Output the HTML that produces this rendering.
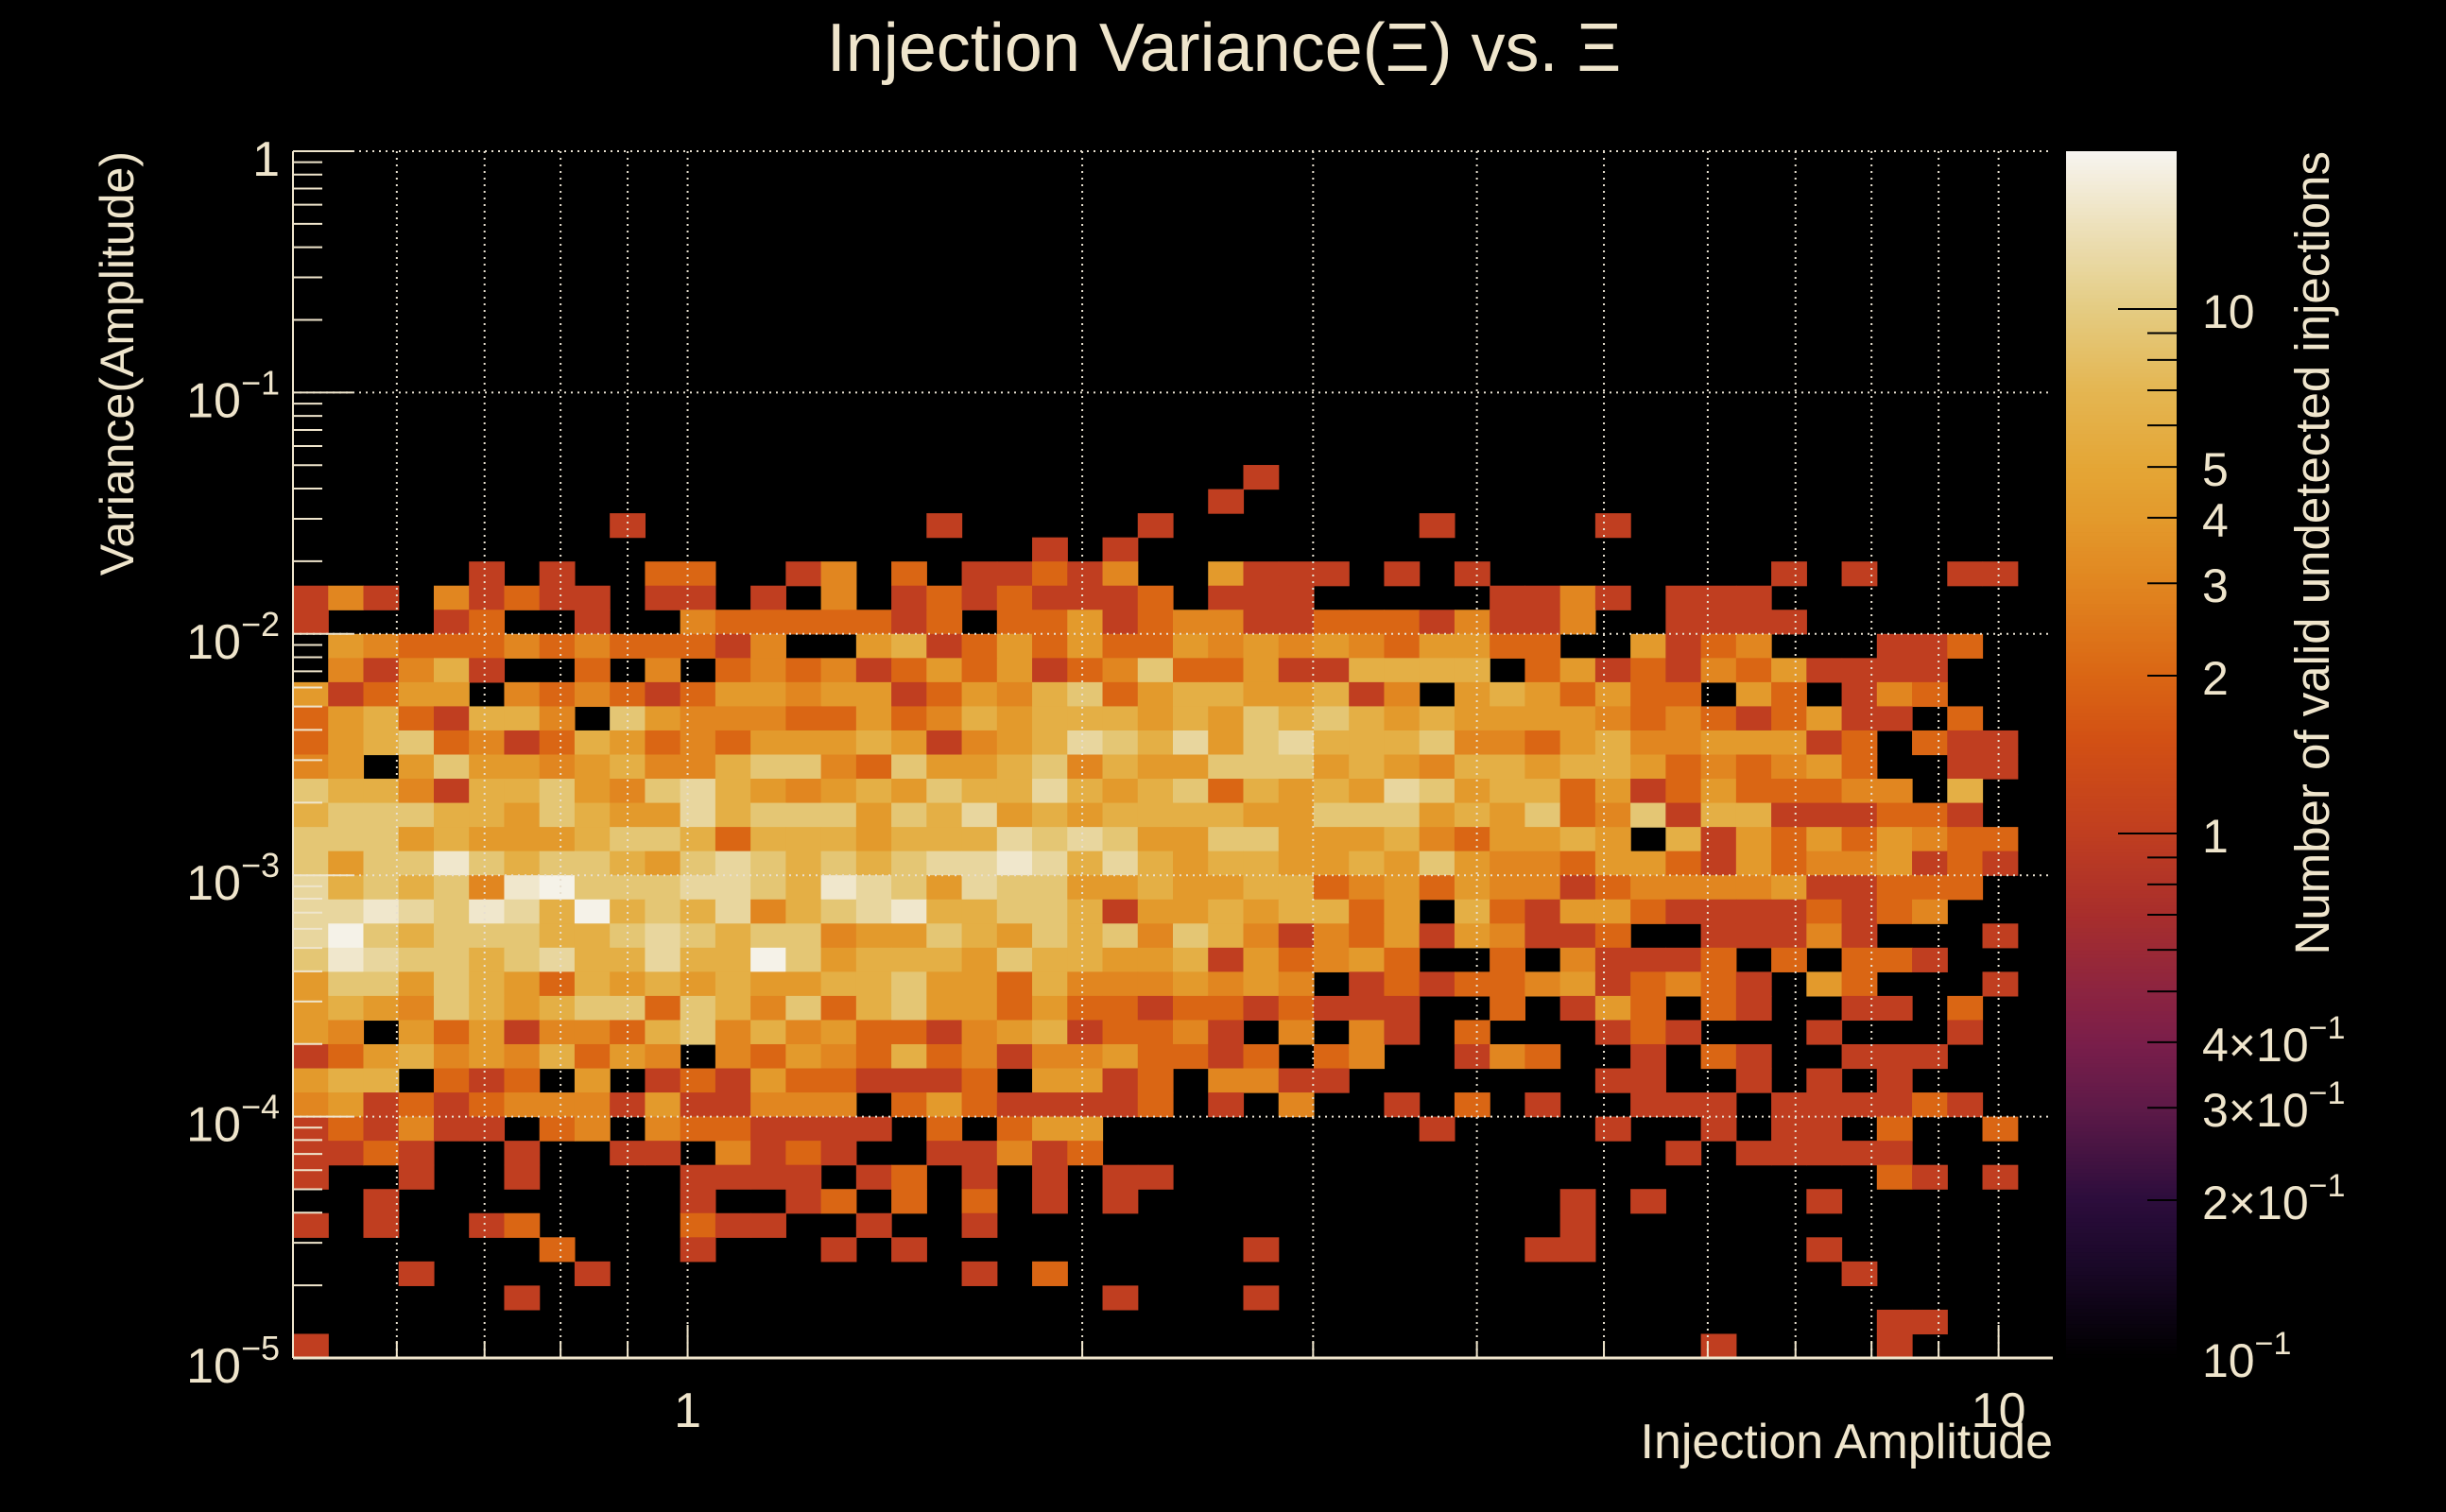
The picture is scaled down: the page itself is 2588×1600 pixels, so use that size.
<!DOCTYPE html>
<html><head><meta charset="utf-8"><title>Injection Variance vs Xi</title>
<style>
html,body{margin:0;padding:0;background:#000;}
svg{display:block;font-family:"Liberation Sans",sans-serif;}
text{fill:#efe5cc;}
</style></head>
<body>
<svg id="chart" width="2588" height="1600" viewBox="0 0 2588 1600" xmlns="http://www.w3.org/2000/svg">
<rect x="0" y="0" width="2588" height="1600" fill="#000"/>
<text x="1295" y="75" font-size="72" text-anchor="middle">Injection Variance(Ξ) vs. Ξ</text>
<g id="cells"></g>
<g id="grid"></g>
<g id="axes"></g>
<g id="cbar"></g>
<text x="2172" y="1543" font-size="52" text-anchor="end">Injection Amplitude</text>
<text transform="translate(141,160) rotate(-90)" font-size="50" text-anchor="end">Variance(Amplitude)</text>
<text transform="translate(2464,160) rotate(-90)" font-size="51" text-anchor="end">Number of valid undetected injections</text>
</svg>
<script>
// y bins counted from the top (bin 0 = [10^-0.1, 1]); rows below start at bin 13
const firstRow = 13;
const xTickValues = [0.6,0.7,0.8,0.9,1,2,3,4,5,6,7,8,9,10];
const xTickLabels = ["1","10"];
const xTickLabelValues = [1,10];
const yDecades = [0,-1,-2,-3,-4,-5];
const cbarTickValues = [0.2,0.3,0.4,0.5,0.6,0.7,0.8,0.9,1,2,3,4,5,6,7,8,9,10];
const cbarLabelValues = [0.1,0.2,0.3,0.4,1,2,3,4,5,10];
const cbarLabelMain = ["10","2×10","3×10","4×10","1","2","3","4","5","10"];
const cbarLabelSup = ["−1","−1","−1","−1","","","","","",""];
const counts = [
[0,0,0,0,0,0,0,0,0,0,0,0,0,0,0,0,0,0,0,0,0,0,0,0,0, 0,0,1,0,0,0,0,0,0,0,0,0,0,0,0,0,0,0,0,0,0,0,0,0,0],
[0,0,0,0,0,0,0,0,0,0,0,0,0,0,0,0,0,0,0,0,0,0,0,0,0, 0,1,0,0,0,0,0,0,0,0,0,0,0,0,0,0,0,0,0,0,0,0,0,0,0],
[0,0,0,0,0,0,0,0,0,1,0,0,0,0,0,0,0,0,1,0,0,0,0,0,1, 0,0,0,0,0,0,0,1,0,0,0,0,1,0,0,0,0,0,0,0,0,0,0,0,0],
[0,0,0,0,0,0,0,0,0,0,0,0,0,0,0,0,0,0,0,0,0,1,0,1,0, 0,0,0,0,0,0,0,0,0,0,0,0,0,0,0,0,0,0,0,0,0,0,0,0,0],
[0,0,0,0,0,1,0,1,0,0,2,2,0,0,1,3,0,2,0,1,1,2,1,3,0, 0,4,1,1,1,0,1,0,1,0,0,0,0,0,0,0,0,1,0,1,0,0,1,1,0],
[1,3,1,0,3,1,2,1,1,0,1,1,0,1,0,3,0,1,2,1,2,1,1,1,2, 0,1,1,1,0,0,0,0,0,1,1,3,1,0,1,1,1,0,0,0,0,0,0,0,0],
[1,0,0,0,1,2,0,0,1,0,0,3,2,2,2,2,2,1,2,0,2,2,4,1,2, 3,3,1,1,2,2,2,1,3,1,1,3,0,0,1,1,1,1,0,0,0,0,0,0,0],
[0,4,3,2,2,2,3,2,3,2,2,2,1,3,0,0,4,6,1,2,4,2,4,2,2, 4,3,4,3,4,3,2,4,4,2,2,0,0,4,1,2,3,0,0,0,1,1,2,0,0],
[0,3,1,3,6,1,0,0,2,0,3,0,2,3,2,3,1,2,4,2,4,1,2,3,9, 2,2,4,1,1,6,6,6,6,0,2,4,1,2,1,3,2,4,1,1,1,1,0,0,0],
[4,1,2,4,4,0,3,2,3,2,1,2,4,4,3,4,4,1,2,4,3,6,9,2,4, 6,6,4,4,6,1,3,0,4,6,4,2,4,2,2,0,4,2,0,1,3,2,0,0,0],
[2,4,6,2,1,6,6,3,0,9,4,3,3,3,2,2,4,2,3,6,4,6,6,6,4, 6,4,9,6,9,6,4,6,4,4,4,4,3,2,3,2,1,2,4,1,1,0,2,0,0],
[2,4,6,9,2,3,1,2,6,4,2,3,2,4,4,4,6,4,1,3,4,6,12,9,6, 12,4,9,12,6,6,6,9,3,3,2,4,6,3,3,4,4,4,1,2,0,2,1,1,0],
[3,4,0,4,9,4,4,3,4,6,3,3,6,9,9,3,2,9,4,4,6,9,3,6,4, 4,9,9,9,4,6,4,3,6,6,4,6,6,4,2,3,2,3,4,2,0,0,1,1,0],
[9,6,6,3,1,6,6,9,4,3,9,12,6,4,3,4,6,4,9,6,6,12,6,4,6, 9,2,6,4,6,4,12,9,4,6,6,2,4,1,2,4,2,2,2,3,3,0,6,0,0],
[6,9,9,9,6,6,4,9,6,4,4,12,6,9,9,9,4,9,6,12,4,6,4,6,6, 6,6,4,4,9,9,9,4,6,4,9,2,3,9,1,6,6,1,1,1,2,2,1,0,0],
[9,9,9,4,6,4,4,4,6,9,9,6,2,6,6,6,4,6,6,6,12,9,12,9,4, 4,9,9,4,4,4,6,3,2,4,4,6,4,0,6,1,4,2,4,2,4,3,2,2,0],
[9,4,9,9,16,9,6,9,9,6,4,9,12,9,6,9,6,9,12,12,16,12,6,12,6, 4,6,6,4,4,6,4,9,4,3,3,2,4,4,2,1,4,2,3,3,4,1,2,1,0],
[12,6,9,6,9,3,16,19,9,9,9,12,12,9,6,16,12,9,4,12,9,9,4,4,6, 4,4,6,6,2,3,4,2,4,3,3,1,2,3,3,3,3,4,1,1,2,2,2,0,0],
[12,12,16,12,9,16,12,6,19,6,9,6,12,3,6,9,12,16,6,6,9,9,6,1,4, 4,6,4,6,6,2,4,0,6,2,1,4,4,2,1,1,1,1,2,1,2,3,0,0,0],
[12,19,9,6,9,9,9,6,6,9,12,9,6,9,9,3,4,4,9,6,4,9,6,9,3, 9,6,3,1,3,2,4,1,4,3,1,1,2,0,0,1,1,1,3,1,0,0,0,1,0],
[9,16,12,9,9,6,9,12,6,6,12,6,6,19,9,4,6,6,6,4,9,6,6,4,4, 6,1,4,2,3,4,2,0,0,2,0,3,1,1,1,2,0,2,0,2,2,1,0,0,0],
[4,9,9,4,9,6,4,2,6,4,6,4,6,4,4,6,6,9,4,4,2,6,3,3,3, 4,3,4,3,0,1,2,1,2,2,3,4,1,2,3,2,1,0,4,2,0,0,0,1,0],
[4,6,4,3,9,6,4,6,9,9,2,9,6,3,9,2,6,9,4,4,2,4,2,2,1, 2,2,1,2,1,1,1,0,0,2,0,1,4,2,0,2,1,0,0,1,1,0,2,0,0],
[4,3,0,4,2,4,1,3,3,2,6,9,3,6,3,4,2,2,1,3,4,6,1,2,2, 3,1,0,3,0,3,1,0,2,0,0,0,1,2,1,0,0,0,1,0,0,0,1,0,0],
[1,2,4,6,3,4,3,6,2,4,3,0,3,2,4,3,2,6,2,3,1,3,3,4,2, 2,1,2,0,2,3,0,0,1,3,2,0,0,1,0,2,1,0,0,1,1,1,0,0,0],
[4,6,6,0,2,1,2,0,4,0,1,2,1,4,2,2,1,1,1,2,0,4,4,1,2, 0,3,3,1,1,0,0,0,0,0,0,0,1,1,0,0,1,0,1,0,1,0,0,0,0],
[3,4,1,2,1,2,3,3,3,1,4,1,1,3,3,3,0,2,4,2,1,1,1,1,2, 0,1,0,3,0,0,1,0,2,0,1,0,0,1,1,1,0,1,1,1,1,2,1,0,0],
[1,2,1,3,1,1,0,2,3,0,3,2,2,1,1,1,1,0,2,0,2,4,4,0,0, 0,0,0,0,0,0,0,1,0,0,0,0,1,0,0,1,0,1,1,0,2,0,0,2,0],
[1,1,2,1,0,0,1,0,0,1,1,0,3,1,2,1,0,0,1,1,3,1,2,0,0, 0,0,0,0,0,0,0,0,0,0,0,0,0,0,1,0,1,1,1,1,1,0,0,0,0],
[1,0,0,1,0,0,1,0,0,0,0,1,1,1,1,0,1,2,0,1,0,1,0,1,1, 0,0,0,0,0,0,0,0,0,0,0,0,0,0,0,0,0,0,0,0,2,1,0,1,0],
[0,0,1,0,0,0,0,0,0,0,0,1,0,0,1,2,0,2,0,2,0,1,0,1,0, 0,0,0,0,0,0,0,0,0,0,0,1,0,1,0,0,0,0,1,0,0,0,0,0,0],
[1,0,1,0,0,1,2,0,0,0,0,2,1,1,0,0,1,0,0,1,0,0,0,0,0, 0,0,0,0,0,0,0,0,0,0,0,1,0,0,0,0,0,0,0,0,0,0,0,0,0],
[0,0,0,0,0,0,0,2,0,0,0,1,0,0,0,1,0,1,0,0,0,0,0,0,0, 0,0,1,0,0,0,0,0,0,0,1,1,0,0,0,0,0,0,1,0,0,0,0,0,0],
[0,0,0,1,0,0,0,0,1,0,0,0,0,0,0,0,0,0,0,1,0,2,0,0,0, 0,0,0,0,0,0,0,0,0,0,0,0,0,0,0,0,0,0,0,1,0,0,0,0,0],
[0,0,0,0,0,0,1,0,0,0,0,0,0,0,0,0,0,0,0,0,0,0,0,1,0, 0,0,1,0,0,0,0,0,0,0,0,0,0,0,0,0,0,0,0,0,0,0,0,0,0],
[0,0,0,0,0,0,0,0,0,0,0,0,0,0,0,0,0,0,0,0,0,0,0,0,0, 0,0,0,0,0,0,0,0,0,0,0,0,0,0,0,0,0,0,0,0,1,1,0,0,0],
[1,0,0,0,0,0,0,0,0,0,0,0,0,0,0,0,0,0,0,0,0,0,0,0,0, 0,0,0,0,0,0,0,0,0,0,0,0,0,0,0,1,0,0,0,0,1,0,0,0,0]
];

const NS = "http://www.w3.org/2000/svg";
const PL = 310, PR = 2172, PT = 160, PB = 1437;
const xMin = 0.5, xMax = 11, nX = 50, nYPerDecade = 10;
const zMin = 0.1, zMax = 20;
const CB = {x0: 2186, x1: 2303};
function X(v){ return PL + (Math.log10(v) - Math.log10(xMin)) / (Math.log10(xMax) - Math.log10(xMin)) * (PR - PL); }
function Y(v){ return PB - (Math.log10(v) + 5) / 5 * (PB - PT); }
function Z(v){ return PB - (Math.log10(v) - Math.log10(zMin)) / (Math.log10(zMax) - Math.log10(zMin)) * (PB - PT); }
const stops = [[0.1,"#000000"],[0.15,"#1a0828"],[0.2,"#2c0d3c"],[0.3,"#5e1a48"],[0.4,"#7a1e4a"],[0.5,"#8c2440"],[0.7,"#a82e2c"],[1,"#c03e20"],[1.5,"#d25014"],[2,"#da6614"],[3,"#e18620"],[4,"#e39a2c"],[5,"#e4a636"],[7,"#e4b652"],[10,"#e4cc82"],[14,"#ecdfb6"],[20,"#f7f5f0"]];
function hex(h){ return [parseInt(h.slice(1,3),16),parseInt(h.slice(3,5),16),parseInt(h.slice(5,7),16)]; }
function cmap(v){
  v = Math.max(zMin, Math.min(zMax, v));
  const lv = Math.log10(v);
  for (let i = 0; i < stops.length - 1; i++) {
    const a = Math.log10(stops[i][0]), b = Math.log10(stops[i+1][0]);
    if (lv <= b) {
      const t = (lv - a) / (b - a), c0 = hex(stops[i][1]), c1 = hex(stops[i+1][1]);
      return "rgb(" + c0.map((c,k)=>Math.round(c + (c1[k]-c)*t)).join(",") + ")";
    }
  }
  return stops[stops.length-1][1];
}
function mk(tag, attrs, parent){
  const e = document.createElementNS(NS, tag);
  for (const k in attrs) e.setAttribute(k, attrs[k]);
  parent.appendChild(e);
  return e;
}

// cells
const gCells = document.getElementById("cells");
counts.forEach((row, r) => {
  const bin = firstRow + r;
  const yHi = Math.pow(10, -bin / nYPerDecade), yLo = Math.pow(10, -(bin + 1) / nYPerDecade);
  row.forEach((v, c) => {
    if (v <= 0) return;
    const xLo = xMin * Math.pow(xMax / xMin, c / nX), xHi = xMin * Math.pow(xMax / xMin, (c + 1) / nX);
    const rc = mk("rect", {x: X(xLo), y: Y(yHi), width: X(xHi) - X(xLo) + 0.6, height: Y(yLo) - Y(yHi) + 0.6, fill: cmap(v)}, gCells);
    
    
  });
});

// gridlines
const gGrid = document.getElementById("grid");
xTickValues.forEach(v => {
  const l = mk("line", {x1: X(v), x2: X(v), y1: PT, y2: PB, stroke: "#e8e0d0", "stroke-width": 2, "stroke-dasharray": "2 5"}, gGrid);
  
  
});
yDecades.forEach(d => {
  const y = Y(Math.pow(10, d));
  const l = mk("line", {x1: PL, x2: PR, y1: y, y2: y, stroke: "#e8e0d0", "stroke-width": 2, "stroke-dasharray": "2 5"}, gGrid);
  
  
});

// axes
const gAx = document.getElementById("axes");
const axL = mk("line", {x1: PL, x2: PL, y1: PT, y2: PB, stroke: "#efe5cc", "stroke-width": 2}, gAx);


const axB = mk("line", {x1: PL, x2: PR, y1: PB, y2: PB, stroke: "#efe5cc", "stroke-width": 3}, gAx);


xTickValues.forEach(v => {
  const len = (v === 1 || v === 10) ? 35 : 18;
  const t = mk("line", {x1: X(v), x2: X(v), y1: PB, y2: PB - len, stroke: "#efe5cc", "stroke-width": 2}, gAx);
  
  
});
xTickLabelValues.forEach((v, i) => {
  const t = mk("text", {x: X(v), y: 1510, "font-size": 52, "text-anchor": "middle"}, gAx);
  t.textContent = xTickLabels[i];
  
  
});
yDecades.forEach(d => {
  const y = Y(Math.pow(10, d));
  const t = mk("line", {x1: PL, x2: PL + 63, y1: y, y2: y, stroke: "#efe5cc", "stroke-width": 2}, gAx);
  
  
  if (d > -5) {
    for (let m = 2; m <= 9; m++) {
      const ym = Y(m * Math.pow(10, d - 1));
      const mt = mk("line", {x1: PL, x2: PL + 31, y1: ym, y2: ym, stroke: "#efe5cc", "stroke-width": 2}, gAx);
      
      
    }
  }
  const lab = mk("text", {x: 296, y: y + 26, "font-size": 52, "text-anchor": "end"}, gAx);
  
  
  if (d === 0) { lab.textContent = "1"; }
  else {
    const a = mk("tspan", {}, lab); a.textContent = "10";
    const b = mk("tspan", {dy: -24, "font-size": 36}, lab); b.textContent = "−" + (-d);
  }
});

// colour bar
const gCb = document.getElementById("cbar");
const nStrips = 320;
for (let i = 0; i < nStrips; i++) {
  const y0 = PT + (PB - PT) * i / nStrips, y1 = PT + (PB - PT) * (i + 1) / nStrips;
  const v = Math.pow(10, Math.log10(zMax) - (Math.log10(zMax) - Math.log10(zMin)) * (i + 0.5) / nStrips);
  const s = mk("rect", {x: CB.x0, y: y0, width: CB.x1 - CB.x0, height: y1 - y0 + 0.6, fill: cmap(v)}, gCb);
  
  
}
cbarTickValues.forEach(v => {
  const len = (v === 1 || v === 10) ? 62 : 31;
  const t = mk("line", {x1: CB.x1 - len, x2: CB.x1, y1: Z(v), y2: Z(v), stroke: "#000", "stroke-width": 2}, gCb);
  
  
});
cbarLabelValues.forEach((v, i) => {
  const lab = mk("text", {x: 2330, y: Z(v) + 20, "font-size": 50}, gCb);
  
  
  const a = mk("tspan", {}, lab); a.textContent = cbarLabelMain[i];
  if (cbarLabelSup[i]) { const b = mk("tspan", {dy: -24, "font-size": 34}, lab); b.textContent = cbarLabelSup[i]; }
});
</script>
</body></html>
